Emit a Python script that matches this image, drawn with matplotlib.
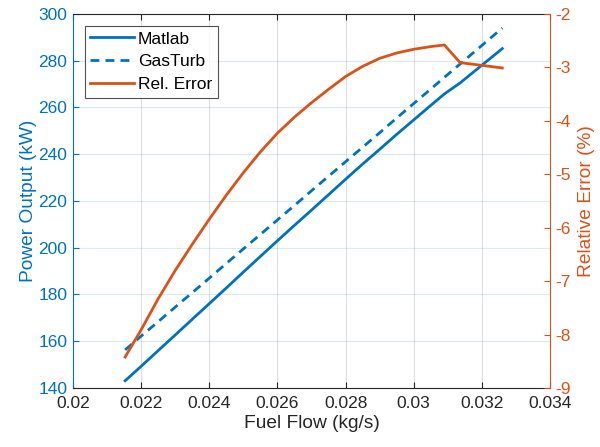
import matplotlib.pyplot as plt

plt.rcParams["font.family"] = ["Liberation Sans", "DejaVu Sans"]
plt.rcParams["axes.unicode_minus"] = False

# fuel flow sample points (kg/s)
fuel_flow = [0.02153, 0.0220, 0.0225, 0.0230, 0.0235, 0.0240, 0.0245,
             0.0250, 0.0255, 0.0260, 0.0265, 0.0270, 0.0275, 0.0280,
             0.0285, 0.0290, 0.0295, 0.0300, 0.0305, 0.0309, 0.03136,
             0.0326]
# power output (kW)
power_matlab = [143.1, 149.3, 156.0, 162.7, 169.4, 176.1, 182.8, 189.6,
                196.3, 203.0, 209.6, 216.1, 222.7, 229.3, 235.8, 242.1,
                248.5, 254.7, 260.9, 265.8, 270.5, 285.2]
power_gasturb = [156.3, 162.2, 168.4, 174.6, 180.8, 187.0, 193.3, 199.5,
                 205.7, 211.9, 218.1, 224.4, 230.6, 236.8, 243.0, 249.2,
                 255.5, 261.7, 267.9, 272.9, 278.6, 294.0]
# relative error (%)
rel_error = [-8.42, -7.91, -7.33, -6.80, -6.31, -5.84, -5.39, -4.97,
             -4.58, -4.23, -3.93, -3.66, -3.41, -3.17, -2.98, -2.83,
             -2.73, -2.66, -2.61, -2.58, -2.91, -3.01]

blue = "#0072BD"
orange = "#D95319"
dark = "#262626"

fig = plt.figure(figsize=(6, 4.47), dpi=100)
ax = fig.add_axes([0.1217, 0.132, 0.795, 0.8367])
ax2 = ax.twinx()

l1, = ax.plot(fuel_flow, power_matlab, color=blue, lw=2, label="Matlab")
l2, = ax.plot(fuel_flow, power_gasturb, color=blue, lw=2, ls=(0, (3.2, 2.2)),
              label="GasTurb")
l3, = ax2.plot(fuel_flow, rel_error, color=orange, lw=2, label="Rel. Error")

ax.set_xlim(0.02, 0.034)
ax.set_xticks([0.02, 0.022, 0.024, 0.026, 0.028, 0.03, 0.032, 0.034])
ax.set_xticklabels(["0.02", "0.022", "0.024", "0.026", "0.028", "0.03",
                    "0.032", "0.034"])
ax.set_ylim(140, 300)
ax.set_yticks(range(140, 301, 20))
ax2.set_ylim(-9, -2)
ax2.set_yticks(range(-9, -1))

# grid: vertical lines gray, horizontal ones tinted with the left axis colour
ax.xaxis.grid(True, color=(0.15, 0.15, 0.15), alpha=0.15, lw=0.8)
ax.yaxis.grid(True, color=blue, alpha=0.15, lw=0.8)
ax.set_axisbelow(True)

ax.tick_params(axis="x", direction="in", top=True, length=4, labelsize=12.5,
               colors=dark, pad=6)
ax.tick_params(axis="y", direction="in", length=4, labelsize=12.5,
               colors=blue, pad=4)
ax2.tick_params(axis="y", direction="in", length=4, labelsize=12.5,
                colors=orange, pad=4)

for side in ("top", "bottom"):
    ax.spines[side].set_color(dark)
    ax2.spines[side].set_visible(False)
ax.spines["left"].set_color(blue)
ax.spines["right"].set_visible(False)
ax2.spines["left"].set_visible(False)
ax2.spines["right"].set_color(orange)

ax.set_xlabel("Fuel Flow (kg/s)", fontsize=13.8, color=dark, labelpad=3)
ax.set_ylabel("Power Output (kW)", fontsize=13.8, color=blue, labelpad=1)
ax2.set_ylabel("Relative Error (%)", fontsize=13.8, color=orange, labelpad=5)

leg = ax2.legend(handles=[l1, l2, l3], loc="upper left", fontsize=12.5,
                 frameon=True, fancybox=False, edgecolor=dark,
                 borderaxespad=0.7, handlelength=2.5, handletextpad=0.25,
                 labelspacing=0.45, borderpad=0.3)
leg.get_frame().set_linewidth(0.8)

fig.savefig("out.png", dpi=100)
